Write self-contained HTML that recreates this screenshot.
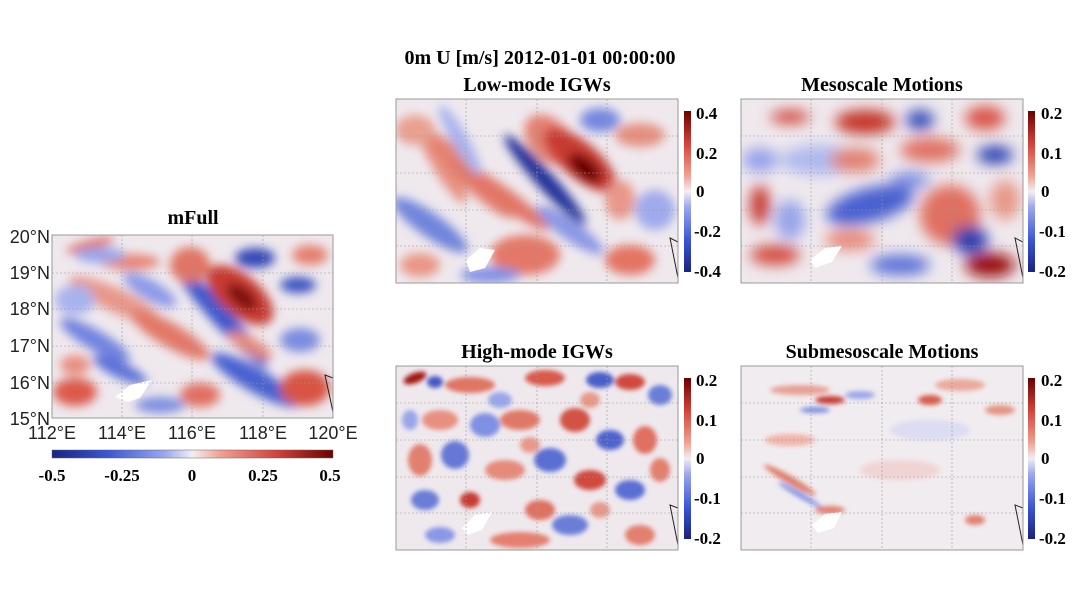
<!DOCTYPE html>
<html><head><meta charset="utf-8"><style>
body{margin:0;background:#fff;}
svg{display:block;font-family:"Liberation Serif",serif;}
.t{font-weight:bold;font-size:20px;text-anchor:middle;}
.c{font-weight:bold;font-size:17px;}
.a{font-family:"Liberation Sans",sans-serif;font-size:18px;fill:#222;}
</style></head><body>
<svg width="1080" height="604" viewBox="0 0 1080 604" xmlns="http://www.w3.org/2000/svg">
<defs>
<filter id="b" x="-30%" y="-30%" width="160%" height="160%"><feGaussianBlur stdDeviation="5"/></filter>
<filter id="b2" x="-30%" y="-30%" width="160%" height="160%"><feGaussianBlur stdDeviation="2.5"/></filter>
<filter id="b3" x="-30%" y="-30%" width="160%" height="160%"><feGaussianBlur stdDeviation="7"/></filter>
<clipPath id="p1"><rect x="52" y="235" width="281" height="183"/></clipPath>
<clipPath id="p2"><rect x="396" y="99" width="282" height="184"/></clipPath>
<clipPath id="p3"><rect x="741" y="99" width="282" height="184"/></clipPath>
<clipPath id="p4"><rect x="396" y="366" width="282" height="184"/></clipPath>
<clipPath id="p5"><rect x="741" y="366" width="282" height="184"/></clipPath>
<linearGradient id="cm" x1="0" x2="1" y1="0" y2="0">
<stop offset="0" stop-color="#1a237e"/><stop offset="0.2" stop-color="#3b57d4"/><stop offset="0.4" stop-color="#9aa6ee"/><stop offset="0.5" stop-color="#f2eef2"/><stop offset="0.6" stop-color="#f0a090"/><stop offset="0.8" stop-color="#d2423a"/><stop offset="1" stop-color="#6b0000"/></linearGradient>
<linearGradient id="cmv" x1="0" x2="0" y1="1" y2="0">
<stop offset="0" stop-color="#1a237e"/><stop offset="0.2" stop-color="#3b57d4"/><stop offset="0.4" stop-color="#9aa6ee"/><stop offset="0.5" stop-color="#f2eef2"/><stop offset="0.6" stop-color="#f0a090"/><stop offset="0.8" stop-color="#d2423a"/><stop offset="1" stop-color="#6b0000"/></linearGradient>
</defs>

<text x="540" y="64" class="t">0m U [m/s] 2012-01-01 00:00:00</text>
<text x="193" y="224" class="t">mFull</text>
<text x="537" y="91" class="t">Low-mode IGWs</text>
<text x="882" y="91" class="t">Mesoscale Motions</text>
<text x="537" y="358" class="t">High-mode IGWs</text>
<text x="882" y="358" class="t">Submesoscale Motions</text>

<!-- mFull -->
<g clip-path="url(#p1)">
<rect x="52" y="235" width="281" height="183" fill="#efe9ee"/>
<g filter="url(#b)">
<ellipse cx="90" cy="245" rx="25" ry="5" fill="#e07060" transform="rotate(-15 90 245)"/>
<ellipse cx="130" cy="262" rx="30" ry="8" fill="#e88474"/>
<ellipse cx="100" cy="255" rx="25" ry="8" fill="#9aa6ea"/>
<ellipse cx="115" cy="300" rx="50" ry="12" fill="#e8988a" transform="rotate(25 115 300)"/>
<ellipse cx="75" cy="300" rx="20" ry="15" fill="#a8b2ee"/>
<ellipse cx="95" cy="340" rx="40" ry="10" fill="#6f82e0" transform="rotate(30 95 340)"/>
<ellipse cx="170" cy="335" rx="45" ry="12" fill="#e27868" transform="rotate(30 170 335)"/>
<ellipse cx="150" cy="290" rx="30" ry="10" fill="#8c9ae8" transform="rotate(30 150 290)"/>
<ellipse cx="220" cy="315" rx="70" ry="10" fill="#4058cc" transform="rotate(48 220 315)"/>
<ellipse cx="240" cy="295" rx="40" ry="20" fill="#c83a30" transform="rotate(40 240 295)"/>
<ellipse cx="242" cy="297" rx="18" ry="9" fill="#7a0a08" transform="rotate(40 242 297)"/>
<ellipse cx="255" cy="258" rx="20" ry="10" fill="#3448b8"/>
<ellipse cx="298" cy="285" rx="18" ry="8" fill="#3a52c0"/>
<ellipse cx="310" cy="255" rx="18" ry="10" fill="#e48070"/>
<ellipse cx="190" cy="265" rx="20" ry="18" fill="#e07464"/>
<ellipse cx="255" cy="380" rx="50" ry="12" fill="#4a62d0" transform="rotate(30 255 380)"/>
<ellipse cx="75" cy="392" rx="22" ry="14" fill="#dd5a4c"/>
<ellipse cx="305" cy="388" rx="25" ry="18" fill="#d85444"/>
<ellipse cx="120" cy="370" rx="30" ry="8" fill="#5a70d8" transform="rotate(25 120 370)"/>
<ellipse cx="200" cy="395" rx="20" ry="12" fill="#e07060"/>
<ellipse cx="300" cy="340" rx="20" ry="12" fill="#7a8ce0"/>
<ellipse cx="160" cy="405" rx="25" ry="8" fill="#7c8ee0"/>
<ellipse cx="250" cy="345" rx="25" ry="8" fill="#e68a7a" transform="rotate(30 250 345)"/>
<ellipse cx="75" cy="365" rx="15" ry="10" fill="#e89080"/>
</g>
<path d="M115 397 L130 385 L152 380 L140 398 L128 402 Z" fill="#fff"/>
<path d="M325 375 L333 378 L333 412 Z" fill="none" stroke="#222"/>
<g stroke="#999" stroke-dasharray="2,2" stroke-width="0.6"><line x1="52" y1="273" x2="333" y2="273"/><line x1="52" y1="309" x2="333" y2="309"/><line x1="52" y1="346" x2="333" y2="346"/><line x1="52" y1="383" x2="333" y2="383"/><line x1="122" y1="235" x2="122" y2="418"/><line x1="192" y1="235" x2="192" y2="418"/><line x1="263" y1="235" x2="263" y2="418"/></g>
</g>
<rect x="52" y="235" width="281" height="183" fill="none" stroke="#999"/>
<g class="a" text-anchor="end"><text x="50" y="243">20°N</text><text x="50" y="279">19°N</text><text x="50" y="315">18°N</text><text x="50" y="352">17°N</text><text x="50" y="389">16°N</text><text x="50" y="425">15°N</text></g>
<g class="a" text-anchor="middle"><text x="52" y="439">112°E</text><text x="122" y="439">114°E</text><text x="192" y="439">116°E</text><text x="263" y="439">118°E</text><text x="333" y="439">120°E</text></g>
<rect x="52" y="450" width="281" height="8" fill="url(#cm)" stroke="#666" stroke-width="0.5"/>
<g class="c" text-anchor="middle"><text x="52" y="481">-0.5</text><text x="122" y="481">-0.25</text><text x="192" y="481">0</text><text x="263" y="481">0.25</text><text x="330" y="481">0.5</text></g>

<!-- Low-mode -->
<g clip-path="url(#p2)">
<rect x="396" y="99" width="282" height="184" fill="#efe9ee"/>
<g filter="url(#b)">
<ellipse cx="440" cy="160" rx="50" ry="10" fill="#e89080" transform="rotate(60 440 160)"/>
<ellipse cx="470" cy="175" rx="60" ry="12" fill="#e48272" transform="rotate(45 470 175)"/>
<ellipse cx="500" cy="195" rx="60" ry="10" fill="#e27666" transform="rotate(35 500 195)"/>
<ellipse cx="430" cy="225" rx="45" ry="12" fill="#7084dc" transform="rotate(35 430 225)"/>
<ellipse cx="460" cy="140" rx="40" ry="8" fill="#a8b2ee" transform="rotate(60 460 140)"/>
<ellipse cx="415" cy="130" rx="20" ry="15" fill="#e8a090"/>
<ellipse cx="550" cy="140" rx="30" ry="20" fill="#e48070" transform="rotate(45 550 140)"/>
<ellipse cx="545" cy="180" rx="60" ry="9" fill="#23339a" transform="rotate(48 545 180)"/>
<ellipse cx="580" cy="160" rx="45" ry="18" fill="#c83a30" transform="rotate(40 580 160)"/>
<ellipse cx="585" cy="168" rx="20" ry="10" fill="#6d0606" transform="rotate(40 585 168)"/>
<ellipse cx="600" cy="120" rx="20" ry="12" fill="#7688e0"/>
<ellipse cx="640" cy="135" rx="25" ry="12" fill="#e59080"/>
<ellipse cx="570" cy="230" rx="40" ry="10" fill="#8b98e6" transform="rotate(35 570 230)"/>
<ellipse cx="525" cy="255" rx="35" ry="20" fill="#e47868"/>
<ellipse cx="630" cy="260" rx="25" ry="15" fill="#e47464"/>
<ellipse cx="420" cy="265" rx="20" ry="12" fill="#ea9686"/>
<ellipse cx="490" cy="275" rx="30" ry="8" fill="#8290e4"/>
<ellipse cx="655" cy="210" rx="20" ry="20" fill="#a0aaec"/>
<ellipse cx="620" cy="200" rx="15" ry="20" fill="#e8988a"/>
</g>
<path d="M466 260 L480 248 L495 250 L485 268 L470 272 Z" fill="#fff"/>
<path d="M670 238 L678 242 L678 278 Z" fill="none" stroke="#222"/>
<g stroke="#999" stroke-dasharray="2,2" stroke-width="0.6"><line x1="396" y1="136" x2="678" y2="136"/><line x1="396" y1="173" x2="678" y2="173"/><line x1="396" y1="210" x2="678" y2="210"/><line x1="396" y1="246" x2="678" y2="246"/><line x1="466" y1="99" x2="466" y2="283"/><line x1="537" y1="99" x2="537" y2="283"/><line x1="607" y1="99" x2="607" y2="283"/></g>
</g>
<rect x="396" y="99" width="282" height="184" fill="none" stroke="#999"/>
<rect x="684" y="111" width="7" height="161" fill="url(#cmv)"/>
<g class="c"><text x="696" y="119">0.4</text><text x="696" y="159">0.2</text><text x="696" y="197">0</text><text x="694" y="237">-0.2</text><text x="694" y="277">-0.4</text></g>

<!-- Meso -->
<g clip-path="url(#p3)">
<rect x="741" y="99" width="282" height="184" fill="#efe9ee"/>
<g filter="url(#b3)">
<ellipse cx="790" cy="117" rx="20" ry="7" fill="#d04a3c"/>
<ellipse cx="865" cy="122" rx="30" ry="12" fill="#c43428"/>
<ellipse cx="920" cy="120" rx="14" ry="10" fill="#3448b8"/>
<ellipse cx="985" cy="118" rx="20" ry="12" fill="#d85446"/>
<ellipse cx="995" cy="155" rx="18" ry="9" fill="#2c40b0"/>
<ellipse cx="820" cy="160" rx="40" ry="15" fill="#b0baee"/>
<ellipse cx="855" cy="160" rx="25" ry="12" fill="#e28070"/>
<ellipse cx="930" cy="150" rx="30" ry="12" fill="#e07060"/>
<ellipse cx="870" cy="205" rx="45" ry="17" fill="#4a60d0" transform="rotate(-15 870 205)"/>
<ellipse cx="950" cy="215" rx="30" ry="30" fill="#e07060"/>
<ellipse cx="760" cy="205" rx="10" ry="20" fill="#c83a30"/>
<ellipse cx="790" cy="220" rx="15" ry="20" fill="#98a4ea"/>
<ellipse cx="970" cy="240" rx="18" ry="14" fill="#2c40b0"/>
<ellipse cx="990" cy="265" rx="25" ry="12" fill="#9a0a08"/>
<ellipse cx="775" cy="255" rx="25" ry="10" fill="#d24c3e"/>
<ellipse cx="900" cy="265" rx="30" ry="10" fill="#5a70d8"/>
<ellipse cx="850" cy="240" rx="25" ry="10" fill="#e88878"/>
<ellipse cx="760" cy="160" rx="18" ry="12" fill="#96a2ea"/>
<ellipse cx="910" cy="180" rx="20" ry="8" fill="#7e8ee2"/>
<ellipse cx="1005" cy="200" rx="15" ry="20" fill="#e89888"/>
</g>
<path d="M810 260 L825 248 L842 246 L832 262 L815 268 Z" fill="#fff"/>
<path d="M1015 238 L1023 242 L1023 278 Z" fill="none" stroke="#222"/>
<g stroke="#999" stroke-dasharray="2,2" stroke-width="0.6"><line x1="741" y1="136" x2="1023" y2="136"/><line x1="741" y1="173" x2="1023" y2="173"/><line x1="741" y1="210" x2="1023" y2="210"/><line x1="741" y1="246" x2="1023" y2="246"/><line x1="811" y1="99" x2="811" y2="283"/><line x1="882" y1="99" x2="882" y2="283"/><line x1="952" y1="99" x2="952" y2="283"/></g>
</g>
<rect x="741" y="99" width="282" height="184" fill="none" stroke="#999"/>
<rect x="1028" y="111" width="7" height="161" fill="url(#cmv)"/>
<g class="c"><text x="1041" y="119">0.2</text><text x="1041" y="159">0.1</text><text x="1041" y="197">0</text><text x="1039" y="237">-0.1</text><text x="1039" y="277">-0.2</text></g>

<!-- High-mode -->
<g clip-path="url(#p4)">
<rect x="396" y="366" width="282" height="184" fill="#efe9ee"/>
<g filter="url(#b2)">
<ellipse cx="415" cy="378" rx="12" ry="5" fill="#a01810" transform="rotate(-20 415 378)"/>
<ellipse cx="435" cy="382" rx="8" ry="6" fill="#4458c4"/>
<ellipse cx="470" cy="385" rx="25" ry="8" fill="#e07464"/>
<ellipse cx="545" cy="378" rx="20" ry="8" fill="#d85a4c"/>
<ellipse cx="600" cy="380" rx="14" ry="8" fill="#4a5ec8"/>
<ellipse cx="630" cy="382" rx="15" ry="8" fill="#d04a3c"/>
<ellipse cx="660" cy="395" rx="12" ry="10" fill="#6a7ed8"/>
<ellipse cx="440" cy="420" rx="18" ry="10" fill="#e89080"/>
<ellipse cx="485" cy="425" rx="15" ry="12" fill="#8090e2"/>
<ellipse cx="520" cy="420" rx="20" ry="10" fill="#e07868"/>
<ellipse cx="575" cy="420" rx="15" ry="12" fill="#d25244"/>
<ellipse cx="610" cy="440" rx="14" ry="10" fill="#5064ce"/>
<ellipse cx="645" cy="440" rx="12" ry="14" fill="#e07060"/>
<ellipse cx="420" cy="460" rx="12" ry="16" fill="#e28070"/>
<ellipse cx="455" cy="455" rx="14" ry="14" fill="#6678d6"/>
<ellipse cx="505" cy="470" rx="20" ry="10" fill="#e68a7a"/>
<ellipse cx="550" cy="460" rx="16" ry="12" fill="#5a6ed4"/>
<ellipse cx="590" cy="480" rx="16" ry="10" fill="#d04a3c"/>
<ellipse cx="630" cy="490" rx="15" ry="10" fill="#5a6ed4"/>
<ellipse cx="425" cy="500" rx="14" ry="10" fill="#6a7ed8"/>
<ellipse cx="470" cy="500" rx="10" ry="8" fill="#c83a30"/>
<ellipse cx="540" cy="510" rx="15" ry="10" fill="#e07060"/>
<ellipse cx="570" cy="525" rx="18" ry="10" fill="#6a7ed8"/>
<ellipse cx="520" cy="540" rx="30" ry="8" fill="#e48070"/>
<ellipse cx="640" cy="535" rx="15" ry="10" fill="#e28070"/>
<ellipse cx="440" cy="535" rx="15" ry="8" fill="#8a98e6"/>
<ellipse cx="660" cy="470" rx="10" ry="12" fill="#e28070"/>
<ellipse cx="500" cy="400" rx="12" ry="8" fill="#9aa6ea"/>
<ellipse cx="590" cy="400" rx="10" ry="8" fill="#e8988a"/>
<ellipse cx="530" cy="445" rx="10" ry="8" fill="#e8988a"/>
<ellipse cx="600" cy="510" rx="10" ry="8" fill="#e8988a"/>
<ellipse cx="410" cy="420" rx="8" ry="10" fill="#9aa6ea"/>
</g>
<path d="M462 528 L475 515 L492 512 L482 530 L468 535 Z" fill="#fff"/>
<path d="M670 505 L678 508 L678 545 Z" fill="none" stroke="#222"/>
<g stroke="#999" stroke-dasharray="2,2" stroke-width="0.6"><line x1="396" y1="403" x2="678" y2="403"/><line x1="396" y1="440" x2="678" y2="440"/><line x1="396" y1="477" x2="678" y2="477"/><line x1="396" y1="513" x2="678" y2="513"/><line x1="466" y1="366" x2="466" y2="550"/><line x1="537" y1="366" x2="537" y2="550"/><line x1="607" y1="366" x2="607" y2="550"/></g>
</g>
<rect x="396" y="366" width="282" height="184" fill="none" stroke="#999"/>
<rect x="684" y="378" width="7" height="161" fill="url(#cmv)"/>
<g class="c"><text x="696" y="386">0.2</text><text x="696" y="426">0.1</text><text x="696" y="464">0</text><text x="694" y="504">-0.1</text><text x="694" y="544">-0.2</text></g>

<!-- Submeso -->
<g clip-path="url(#p5)">
<rect x="741" y="366" width="282" height="184" fill="#f1ecef"/>
<g filter="url(#b2)">
<ellipse cx="800" cy="390" rx="30" ry="5" fill="#e8a094"/>
<ellipse cx="830" cy="400" rx="15" ry="4" fill="#c83a30"/>
<ellipse cx="815" cy="410" rx="15" ry="3" fill="#7a8ce0"/>
<ellipse cx="860" cy="395" rx="15" ry="4" fill="#9aa6ea"/>
<ellipse cx="960" cy="385" rx="25" ry="6" fill="#eba89c"/>
<ellipse cx="930" cy="400" rx="12" ry="5" fill="#d85a4c"/>
<ellipse cx="1000" cy="410" rx="15" ry="5" fill="#e49484"/>
<ellipse cx="790" cy="440" rx="25" ry="6" fill="#f0b4a8"/>
<ellipse cx="790" cy="480" rx="30" ry="4" fill="#e08070" transform="rotate(30 790 480)"/>
<ellipse cx="800" cy="495" rx="25" ry="3" fill="#8c9ae6" transform="rotate(30 800 495)"/>
<ellipse cx="830" cy="510" rx="15" ry="4" fill="#e28070"/>
<ellipse cx="900" cy="470" rx="40" ry="10" fill="#f0d4d4"/>
<ellipse cx="975" cy="520" rx="10" ry="5" fill="#e08070"/>
<ellipse cx="930" cy="430" rx="40" ry="10" fill="#dcdcf2"/>
</g>
<path d="M812 525 L825 514 L842 512 L834 528 L818 533 Z" fill="#fff"/>
<path d="M1015 505 L1023 508 L1023 545 Z" fill="none" stroke="#222"/>
<g stroke="#999" stroke-dasharray="2,2" stroke-width="0.6"><line x1="741" y1="403" x2="1023" y2="403"/><line x1="741" y1="440" x2="1023" y2="440"/><line x1="741" y1="477" x2="1023" y2="477"/><line x1="741" y1="513" x2="1023" y2="513"/><line x1="811" y1="366" x2="811" y2="550"/><line x1="882" y1="366" x2="882" y2="550"/><line x1="952" y1="366" x2="952" y2="550"/></g>
</g>
<rect x="741" y="366" width="282" height="184" fill="none" stroke="#999"/>
<rect x="1028" y="378" width="7" height="161" fill="url(#cmv)"/>
<g class="c"><text x="1041" y="386">0.2</text><text x="1041" y="426">0.1</text><text x="1041" y="464">0</text><text x="1039" y="504">-0.1</text><text x="1039" y="544">-0.2</text></g>
</svg>
</body></html>
